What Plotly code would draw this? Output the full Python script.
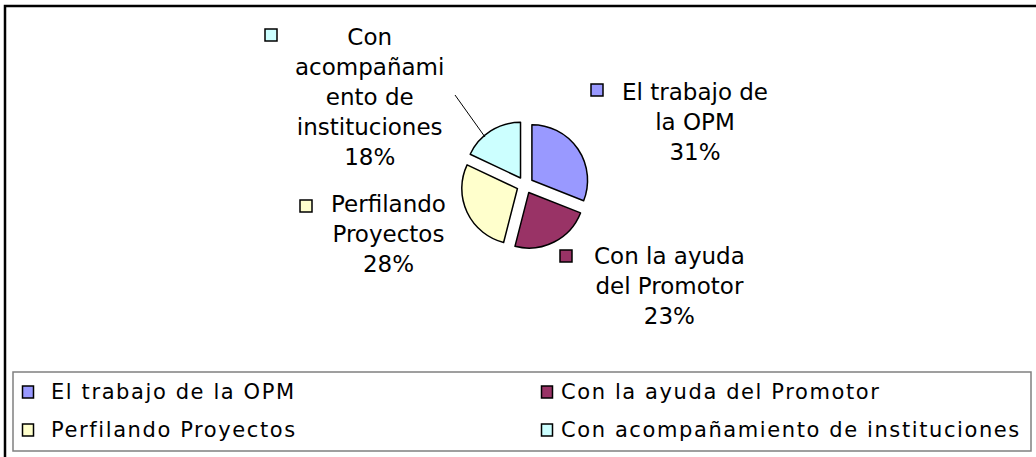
import plotly.graph_objects as go

W, H = 1036, 457

# data
labels = ["El trabajo de la OPM", "Con la ayuda del Promotor",
          "Perfilando Proyectos", "Con acompañamiento de instituciones"]
values = [31, 23, 28, 18]
colors = ["#9999FF", "#993366", "#FFFFCC", "#CCFFFF"]
# slice labels wrapped the way Excel wrapped them
wrapped = ["El trabajo de<br>la OPM", "Con la ayuda<br>del Promotor",
           "Perfilando<br>Proyectos", "Con<br>acompañami<br>ento de<br>instituciones"]


def px(x):
    return x / W


def py(y):
    return 1 - y / H


# layout positions (pixels) for the outside labels and their keys
label_pos = [(695, 122), (669, 286), (388, 234), (369, 97)]
key_pos = [(597, 90), (566, 256), (306, 206), (271, 35)]
# bottom legend: (key centre x, text start x, row y)
legend_pos = [(28, 49, 392), (547, 559, 392), (28, 49, 430), (547, 559, 430)]

cx, cy, R = 525, 185, 64

fig = go.Figure(go.Pie(
    labels=labels, values=values, sort=False, direction="clockwise", rotation=0,
    marker=dict(colors=colors, line=dict(color="black", width=1.5)),
    pull=[0.15] * len(values), textinfo="none", showlegend=False,
    domain=dict(x=[px(cx - R), px(cx + R)], y=[py(cy + R), py(cy - R)]),
))

total = sum(values)
shapes = []
annotations = []

# outer frame and legend box
shapes.append(dict(type="rect", xref="paper", yref="paper", x0=px(5), x1=px(W + 6),
                   y0=py(H + 6), y1=py(6), line=dict(color="black", width=2.5)))
shapes.append(dict(type="rect", xref="paper", yref="paper", x0=px(13), x1=px(1031),
                   y0=py(451), y1=py(372), line=dict(color="#808080", width=1.5),
                   fillcolor="white", layer="below"))

for i, lab in enumerate(labels):
    pct = round(values[i] / total * 100)
    lx, ly = label_pos[i]
    annotations.append(dict(x=px(lx), y=py(ly), xref="paper", yref="paper",
                            text=f"{wrapped[i]}<br>{pct}%", showarrow=False,
                            align="center", xanchor="center", yanchor="middle",
                            font=dict(family="DejaVu Sans", size=23, color="black")))
    kx, ky = key_pos[i]
    shapes.append(dict(type="rect", xref="paper", yref="paper",
                       x0=px(kx - 6), x1=px(kx + 6), y0=py(ky + 6), y1=py(ky - 6),
                       fillcolor=colors[i], line=dict(color="black", width=1.5)))
    # legend entry
    sx, tx, ry = legend_pos[i]
    shapes.append(dict(type="rect", xref="paper", yref="paper",
                       x0=px(sx - 5.5), x1=px(sx + 5.5), y0=py(ry + 6), y1=py(ry - 6),
                       fillcolor=colors[i], line=dict(color="black", width=1.5)))
    annotations.append(dict(x=px(tx), y=py(ry), xref="paper", yref="paper",
                            text=f"<span style='letter-spacing:1.6px'>{lab}</span>",
                            showarrow=False, xanchor="left", yanchor="middle",
                            font=dict(family="DejaVu Sans", size=21, color="black")))

# leader line for the small slice label
shapes.append(dict(type="line", xref="paper", yref="paper", x0=px(455), y0=py(95),
                   x1=px(485), y1=py(137), line=dict(color="black", width=1)))

fig.update_layout(
    width=W, height=H, margin=dict(l=0, r=0, t=0, b=0),
    paper_bgcolor="white", plot_bgcolor="white",
    shapes=shapes, annotations=annotations, showlegend=False,
)

fig.write_html("out.html", config={"displayModeBar": False},
               post_script="document.body.style.margin='0px';")
